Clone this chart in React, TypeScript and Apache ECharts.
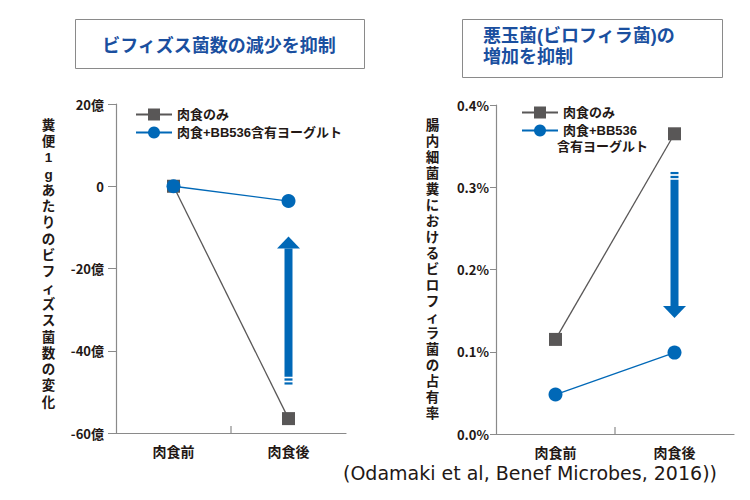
import React, { useEffect, useRef } from "react";
import * as echarts from "echarts";

const categories = ["肉食前", "肉食後"];
const seriesNames = ["肉食のみ", "肉食+BB536含有ヨーグルト"];
const rightLegendNames = ["肉食のみ", "肉食+BB536"];
const rightLegendSecondLine = "含有ヨーグルト";

// left: change in bifidobacteria count per 1g feces (億)
const leftMeatOnly = [0, -56.5];
const leftBB536 = [0, -3.6];
// right: Bilophila occupancy (%)
const rightMeatOnly = [0.115, 0.365];
const rightBB536 = [0.048, 0.099];

const leftTicks = { min: -60, max: 20, interval: 20 };
const rightTicks = { min: 0, max: 0.4, interval: 0.1 };

// arrows [tail, tip] in data units, at category index 1
const leftArrow = [-46.3, -12.2];
const rightArrow = [0.309, 0.141];

const leftTitle = "ビフィズス菌数の減少を抑制";
const rightTitleLines = ["悪玉菌(ビロフィラ菌)の", "増加を抑制"];
const leftAxisName = "糞便1gあたりのビフィズス菌数の変化";
const rightAxisName = "腸内細菌糞におけるビロフィラ菌の占有率";
const citation = "(Odamaki et al, Benef Microbes, 2016))";

const JP = '"Noto Sans CJK JP", "Noto Sans", sans-serif';
const TIGHT = '"Liberation Sans", "Noto Sans CJK JP", sans-serif';
const DARK = "#231815";
const GRAY = "#595757";
const BLUE = "#0068b7";
const TITLE_BLUE = "#1a4f9f";
const AXIS = "#8a8a8a";

export default function App() {
  const ref = useRef<HTMLDivElement>(null);
  useEffect(() => {
    if (!ref.current) return;
    const chart = echarts.init(ref.current, null, { renderer: "svg" });
    const axisLabelBase = { color: DARK, fontFamily: JP, fontWeight: "bold" as any };
    const xAxisBase = (i: number) => ({
      type: "category",
      gridIndex: i,
      data: categories,
      axisLine: { onZero: false, lineStyle: { color: AXIS, width: 1.2 } },
      axisTick: { show: false },
      axisLabel: { ...axisLabelBase, fontSize: 14, margin: 11 },
    });
    const lineSeries = (name: string, data: number[], i: number, blue: boolean) => ({
      type: "line",
      name,
      xAxisIndex: i,
      yAxisIndex: i,
      data,
      symbol: blue ? "circle" : "rect",
      symbolSize: blue ? 14 : 13,
      lineStyle: { color: blue ? BLUE : GRAY, width: 1.3 },
      itemStyle: { color: blue ? BLUE : GRAY },
      z: blue ? 3 : 2,
    });
    const legendBase = {
      orient: "vertical",
      itemWidth: 36,
      itemHeight: 15,
      itemGap: 5,
      textStyle: { color: DARK, fontFamily: TIGHT, fontWeight: "bold", fontSize: 13 },
      selectedMode: false,
    };
    chart.setOption({
      animation: false,
      grid: [
        { left: 116, top: 104, width: 230, height: 329 },
        { left: 496, top: 105, width: 238, height: 329 },
      ],
      xAxis: [xAxisBase(0), xAxisBase(1)],
      yAxis: [
        {
          type: "value",
          gridIndex: 0,
          ...leftTicks,
          axisLine: { show: true, lineStyle: { color: AXIS, width: 1.2 } },
          axisTick: { show: true, length: 8, lineStyle: { color: AXIS } },
          splitLine: { show: false },
          axisLabel: {
            ...axisLabelBase,
            fontSize: 13,
            margin: 12,
            formatter: (v: number) => (v === 0 ? "0" : `${v}億`),
          },
        },
        {
          type: "value",
          gridIndex: 1,
          ...rightTicks,
          axisLine: { show: true, lineStyle: { color: AXIS, width: 1.2 } },
          axisTick: { show: true, length: 6, lineStyle: { color: AXIS } },
          splitLine: { show: false },
          axisLabel: {
            ...axisLabelBase,
            fontSize: 13,
            margin: 7,
            formatter: (v: number) => `${v.toFixed(1)}%`,
          },
        },
      ],
      legend: [
        { ...legendBase, left: 130, top: 103, data: seriesNames },
        { ...legendBase, left: 516, top: 101, data: rightLegendNames },
      ],
      series: [
        lineSeries(seriesNames[0], leftMeatOnly, 0, false),
        lineSeries(seriesNames[1], leftBB536, 0, true),
        lineSeries(rightLegendNames[0], rightMeatOnly, 1, false),
        lineSeries(rightLegendNames[1], rightBB536, 1, true),
      ],
    });

    const px = (gi: number, cat: number, v: number) =>
      chart.convertToPixel({ gridIndex: gi } as any, [cat, v]) as number[];

    const arrow = (x: number, yTail: number, yTip: number) => {
      const dir = yTip > yTail ? 1 : -1;
      const headLen = 12;
      const headHalf = 11.5;
      const shaftHalf = 4;
      const base = yTip - dir * headLen;
      const els: any[] = [];
      els.push({
        type: "rect",
        shape: { x: x - shaftHalf, y: Math.min(yTail, base), width: shaftHalf * 2, height: Math.abs(base - yTail) },
        style: { fill: BLUE },
        silent: true,
      });
      els.push({
        type: "polygon",
        shape: { points: [[x - headHalf, base], [x + headHalf, base], [x, yTip]] },
        style: { fill: BLUE },
        silent: true,
      });
      [
        [1.7, 2.3],
        [5.7, 2.2],
      ].forEach(([o, h]) => {
        const y0 = yTail - dir * o;
        const y1 = yTail - dir * (o + h);
        els.push({
          type: "rect",
          shape: { x: x - shaftHalf, y: Math.min(y0, y1), width: shaftHalf * 2, height: h },
          style: { fill: BLUE },
          silent: true,
        });
      });
      return els;
    };

    const l0 = px(0, 0, leftTicks.min);
    const l1 = px(0, 1, leftTicks.min);
    const r0 = px(1, 0, rightTicks.min);
    const r1 = px(1, 1, rightTicks.min);
    const la = px(0, 1, leftArrow[0]);
    const lb = px(0, 1, leftArrow[1]);
    const ra = px(1, 1, rightArrow[0]);
    const rb = px(1, 1, rightArrow[1]);

    const verticalText = (s: string, x: number, yTop: number, step: number) =>
      s.split("").map((ch, i) => ({
        type: "text",
        x,
        y: yTop + i * step + step / 2,
        style: {
          text: ch,
          fill: DARK,
          font: `bold 13.5px ${TIGHT}`,
          align: "center",
          verticalAlign: "middle",
        },
      }));

    const graphic: any[] = [
      {
        type: "rect",
        shape: { x: 75.5, y: 19.5, width: 289, height: 49 },
        style: { fill: "#fff", stroke: AXIS, lineWidth: 1 },
      },
      {
        type: "text",
        x: 219,
        y: 44,
        style: {
          text: leftTitle,
          fill: TITLE_BLUE,
          font: `bold 18px ${JP}`,
          align: "center",
          verticalAlign: "middle",
        },
      },
      {
        type: "rect",
        shape: { x: 462.5, y: 19.5, width: 260, height: 58 },
        style: { fill: "#fff", stroke: AXIS, lineWidth: 1 },
      },
      ...rightTitleLines.map((t, i) => ({
        type: "text",
        x: 483,
        y: 35.5 + i * 21,
        style: {
          text: t,
          fill: TITLE_BLUE,
          font: `bold 18px ${TIGHT}`,
          align: "left",
          verticalAlign: "middle",
        },
      })),
      ...verticalText(leftAxisName, 48.5, 117, 16.3),
      ...verticalText(rightAxisName, 432.5, 117, 16),
      {
        type: "text",
        x: 557,
        y: 146,
        style: {
          text: rightLegendSecondLine,
          fill: DARK,
          font: `bold 13px ${TIGHT}`,
          align: "left",
          verticalAlign: "middle",
        },
      },
      {
        type: "line",
        shape: { x1: (l0[0] + l1[0]) / 2, y1: l0[1], x2: (l0[0] + l1[0]) / 2, y2: l0[1] - 7 },
        style: { stroke: AXIS, lineWidth: 1.2 },
      },
      {
        type: "line",
        shape: { x1: (r0[0] + r1[0]) / 2, y1: r0[1], x2: (r0[0] + r1[0]) / 2, y2: r0[1] - 7 },
        style: { stroke: AXIS, lineWidth: 1.2 },
      },
      {
        type: "text",
        x: 343,
        y: 473,
        style: {
          text: citation,
          fill: DARK,
          font: `19px "DejaVu Sans", sans-serif`,
          align: "left",
          verticalAlign: "middle",
        },
      },
      ...arrow(la[0], la[1], lb[1]),
      ...arrow(ra[0], ra[1], rb[1]),
    ];
    chart.setOption({ graphic });

    return () => chart.dispose();
  }, []);

  return (
    <div
      ref={ref}
      style={{ position: "fixed", left: 0, top: 0, width: 750, height: 500, background: "#fff" }}
    />
  );
}
